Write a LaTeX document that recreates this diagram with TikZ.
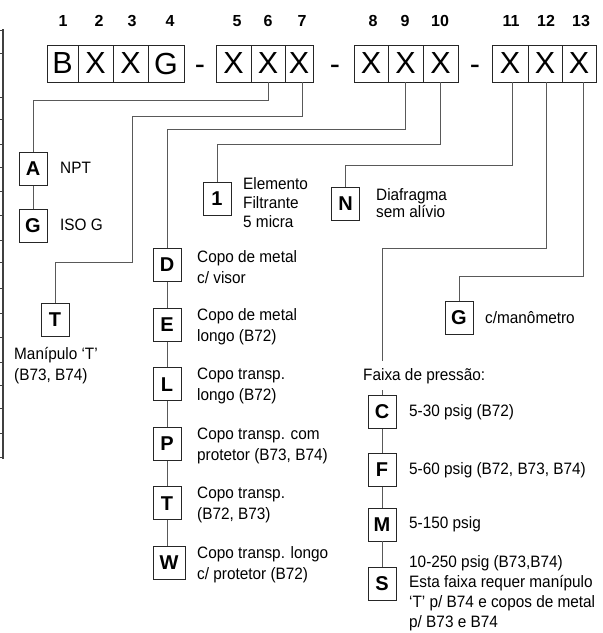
\documentclass[tikz,border=0pt]{standalone}
\usepackage{fontspec}
\setmainfont{Liberation Sans}
\newfontfamily\labfont[FakeStretch=0.93]{Liberation Sans}
\begin{document}
\begin{tikzpicture}[x=1pt,y=-1pt,
  big/.style={draw=black!85, line width=0.9pt, minimum height=37pt, inner sep=0pt, font=\fontsize{30.5}{30.5}\selectfont},
  sepmark/.style={inner sep=0pt, font=\fontsize{30.5}{30.5}\selectfont},
  num/.style={inner sep=0pt, font=\bfseries\fontsize{16}{16}\selectfont},
  opt/.style={draw=black!85, fill=white, line width=0.9pt, minimum width=28pt, minimum height=33pt, inner sep=0pt, font=\bfseries\fontsize{20}{20}\selectfont},
  lab/.style={anchor=west, align=left, inner sep=0pt, font=\labfont\fontsize{16.5}{21}\selectfont},
  conn/.style={draw=black!65, line width=0.9pt},
]
\useasboundingbox (0,0) rectangle (603,633);

% cropped table edge at the left
\draw[black!75, line width=1.3pt] (3,29) -- (3,459);
\foreach \yy in {30,53,97,119,144,167,191,215,240,262,288,313,337,362,385,408,433,457}
  \draw[black!75, line width=0.9pt] (0,\yy) -- (3,\yy);

% position numbers
\node[num] (n1) at (63,21) {1};
\node[num] (n2) at (99,21) {2};
\node[num] (n3) at (132,21) {3};
\node[num] (n4) at (170,21) {4};
\node[num] (n5) at (237,21) {5};
\node[num] (n6) at (268,21) {6};
\node[num] (n7) at (302,21) {7};
\node[num] (n8) at (373,21) {8};
\node[num] (n9) at (405,21) {9};
\node[num] (n10) at (440,21) {10};
\node[num] (n11) at (511,21) {11};
\node[num] (n12) at (546,21) {12};
\node[num] (n13) at (581,21) {13};

% code boxes
\node[big, minimum width=31pt] (b1) at (62.5,63.5) {B};
\node[big, minimum width=35pt] (b2) at (95.5,63.5) {X};
\node[big, minimum width=35pt] (b3) at (130.5,63.5) {X};
\node[big, minimum width=36pt] (b4) at (166,63.5) {G};
\node[sepmark] (d1) at (200,70) {-};
\node[big, minimum width=35pt] (b5) at (233.5,63.5) {X};
\node[big, minimum width=34pt] (b6) at (268,63.5) {X};
\node[big, minimum width=28pt] (b7) at (299,63.5) {X};
\node[sepmark] (d2) at (335,70) {-};
\node[big, minimum width=34pt] (b8) at (371,63.5) {X};
\node[big, minimum width=35pt] (b9) at (405.5,63.5) {X};
\node[big, minimum width=35pt] (b10) at (440.5,63.5) {X};
\node[sepmark] (d3) at (475,70) {-};
\node[big, minimum width=36pt] (b11) at (510,63.5) {X};
\node[big, minimum width=34pt] (b12) at (545,63.5) {X};
\node[big, minimum width=34pt] (b13) at (579,63.5) {X};

% options: connection type
\node[opt] (oA) at (33,169) {A};
\node[opt] (oG) at (33,226) {G};
\node[lab] (tA) at (60,168) {NPT};
\node[lab] (tG) at (60,225) {ISO G};

% options: handle
\node[opt] (oTh) at (55,320) {T};
\node[lab] (tTh) at (14,366) {Manípulo ‘T’\\(B73, B74)};

% options: filter element
\node[opt] (o1) at (217,199) {1};
\node[lab, font=\labfont\fontsize{16.5}{19}\selectfont] (t1) at (243,203) {Elemento\\Filtrante\\5 micra};

% options: bowls
\node[opt] (oD) at (167,265) {D};
\node[opt] (oE) at (167,324.6) {E};
\node[opt] (oL) at (167,384.2) {L};
\node[opt] (oP) at (167,443.8) {P};
\node[opt] (oTb) at (167,503.4) {T};
\node[opt, minimum width=32pt] (oW) at (169,563) {W};
\node[lab] (tD) at (197,267) {Copo de metal\\c/ visor};
\node[lab] (tE) at (197,326.6) {Copo de metal\\longo (B72)};
\node[lab] (tL) at (197,386.2) {Copo transp.\\longo (B72)};
\node[lab] (tP) at (197,445.8) {Copo transp. com\\protetor (B73, B74)};
\node[lab] (tTb) at (197,505.4) {Copo transp.\\(B72, B73)};
\node[lab] (tW) at (197,565) {Copo transp. longo\\c/ protetor (B72)};

% options: diaphragm
\node[opt] (oN) at (345.5,203.5) {N};
\node[lab, font=\labfont\fontsize{16.5}{17}\selectfont] (tN) at (376,203) {Diafragma\\sem alívio};

% options: gauge
\node[opt] (oGg) at (459,317.5) {G};
\node[lab] (tGg) at (485,318) {c/manômetro};

% options: pressure range
\node[lab] (fx) at (363,376) {Faixa de pressão:};
\coordinate (fxtop) at (382,361);
\coordinate (fxbot) at (382,390);
\node[opt] (oC) at (382,412) {C};
\node[opt] (oF) at (382,470) {F};
\node[opt] (oM) at (382,524.5) {M};
\node[opt] (oS) at (382,584) {S};
\node[lab] (tC) at (409,412) {5-30 psig (B72)};
\node[lab] (tF) at (409,470) {5-60 psig (B72, B73, B74)};
\node[lab] (tM) at (409,524.5) {5-150 psig};
\node[lab, anchor=north west, font=\labfont\fontsize{16.5}{20}\selectfont] (tS) at (409,555) {10-250 psig (B73,B74)\\Esta faixa requer manípulo\\‘T’ p/ B74 e copos de metal\\p/ B73 e B74};

% connectors
\draw[conn] (b6.south) -- ++(0,18) -| (oA.north);
\draw[conn] (oA) -- (oG);
\draw[conn] ([xshift=3pt]b7.south) |- (132,116) -- (132,262) -| (oTh.north);
\draw[conn] (b9.south) -- ++(0,47) -| (oD.north);
\draw[conn] (oD) -- (oE) -- (oL) -- (oP) -- (oTb);
\draw[conn] (oTb.south) -- (oTb.south |- oW.north);
\draw[conn] (b10.south) -- ++(0,62) -| (o1.north);
\draw[conn] ([xshift=2pt]b11.south) -- ++(0,83) -| (oN.north);
\draw[conn] ([xshift=1pt]b12.south) -- ++(0,166) -| (fxtop);
\draw[conn] (fxbot) -- (oC.north);
\draw[conn] (oC) -- (oF) -- (oM) -- (oS);
\draw[conn] ([xshift=4pt]b13.south) -- ++(0,194) -| (oGg.north);
\end{tikzpicture}
\end{document}
